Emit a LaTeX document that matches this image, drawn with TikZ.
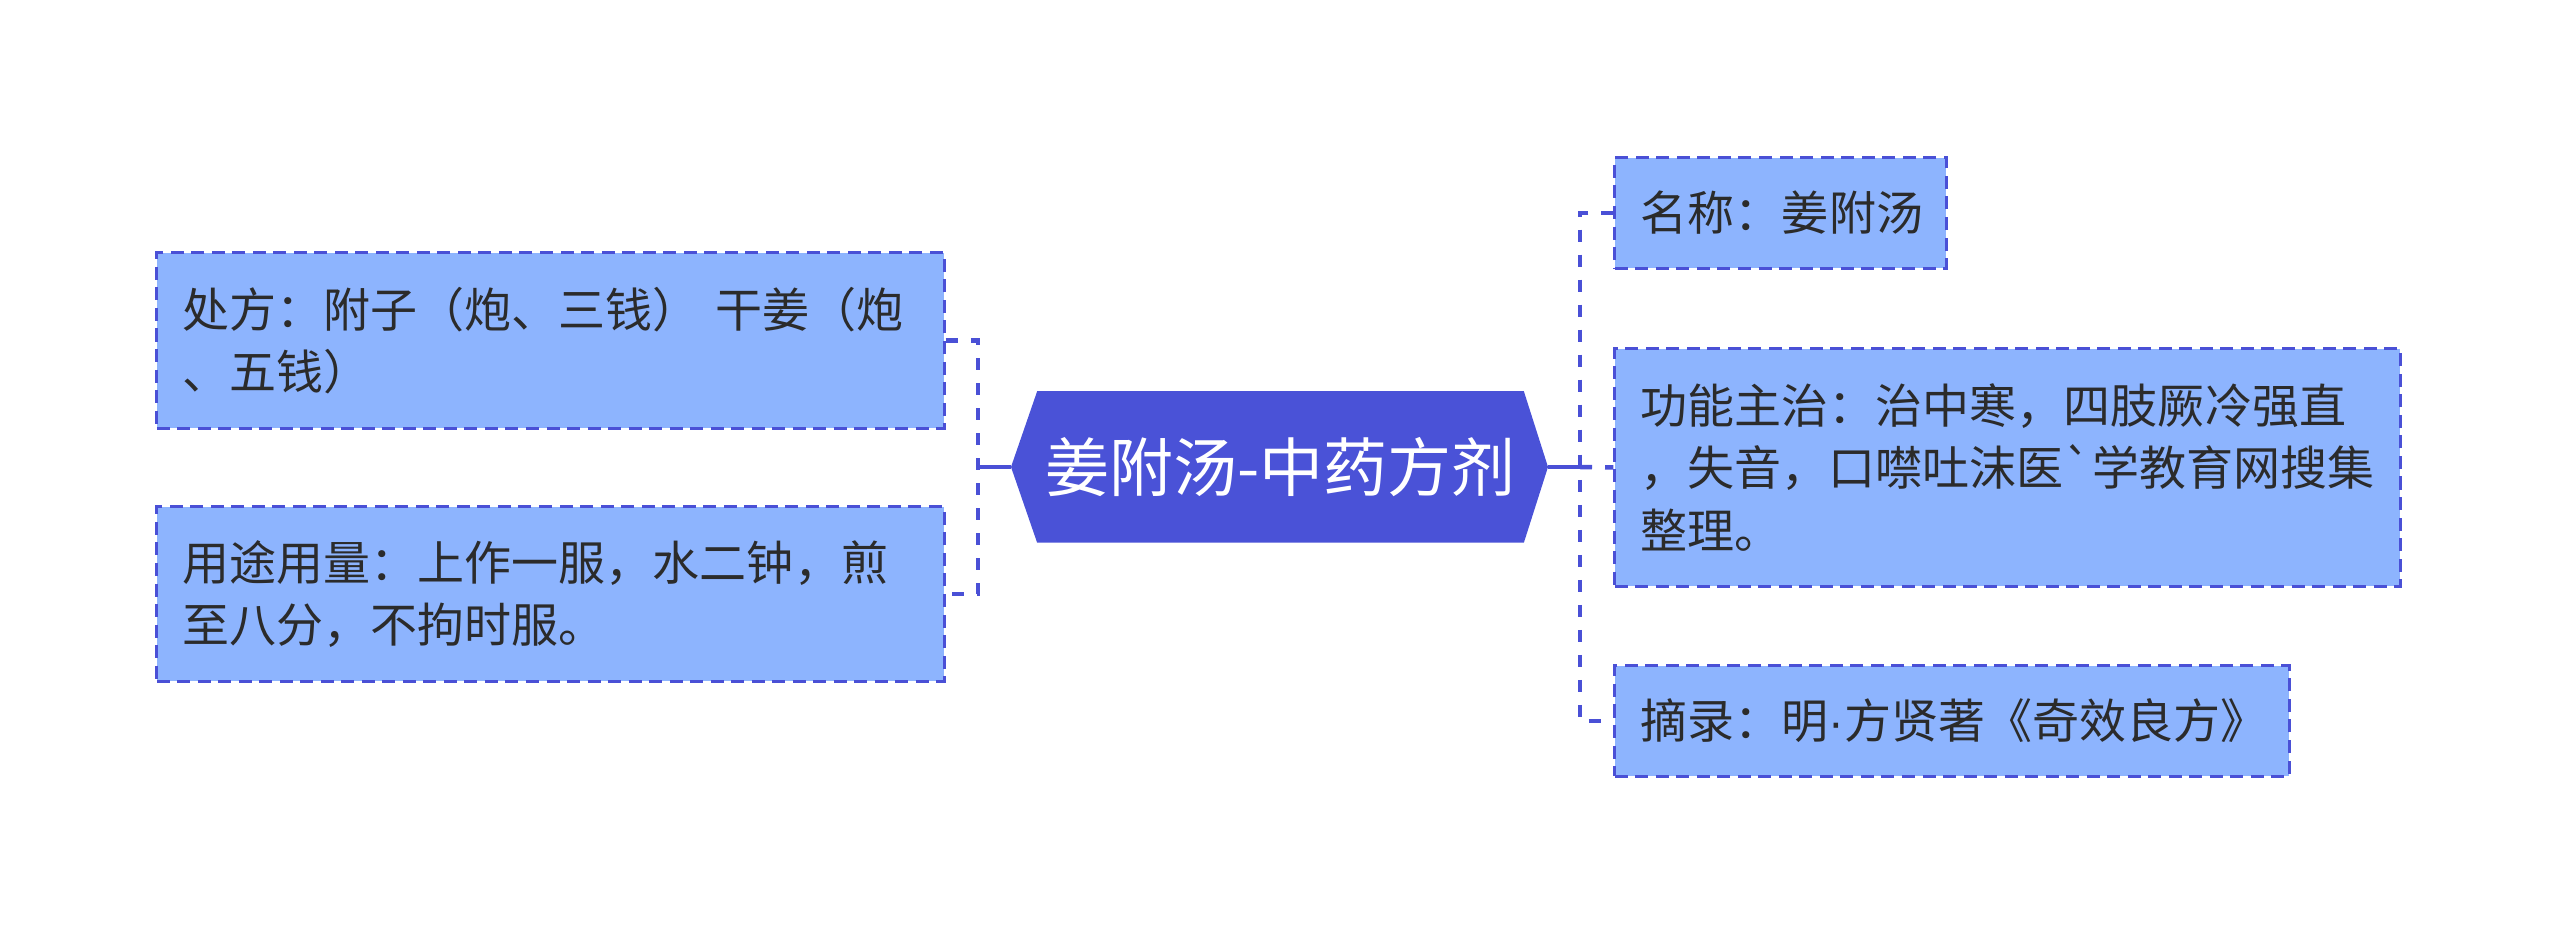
\documentclass[tikz,border=0pt]{standalone}
\usepackage{fontspec}
\setmainfont{Noto Sans CJK SC}
\newfontfamily\dotfont{Liberation Sans}
\definecolor{rootfill}{HTML}{4A52D7}
\definecolor{linecol}{HTML}{4A50D6}
\definecolor{boxfill}{HTML}{8DB4FE}
\definecolor{textcol}{HTML}{2B2B2B}
\tikzset{
  leaf/.style={rectangle, fill=boxfill, draw=linecol, line width=0.03cm,
    dash pattern=on 0.13cm off 0.075cm, inner xsep=0.26cm, inner ysep=0pt,
    text width=#1, align=left, text=textcol,
    font=\fontsize{13.37pt}{17.7pt}\selectfont},
  conn/.style={draw=linecol, line width=0.045cm, dash pattern=on 0.12cm off 0.13cm},
  connsolid/.style={draw=linecol, line width=0.045cm},
}
\begin{document}
\begin{tikzpicture}[x=0.01cm,y=-0.01cm]
\useasboundingbox (0,0) rectangle (2560,934);
% root
\node[inner sep=0pt, minimum width=4.85cm, minimum height=1.50cm] (root) at (1280.5,467) {};
\coordinate (rootL) at (1011,467);
\coordinate (rootR) at (1548,467);
\fill[rootfill] (rootL) -- (root.north west) -- (root.north east) -- (rootR) -- (root.south east) -- (root.south west) -- cycle;
\node[text=white, font=\fontsize{18.2pt}{20pt}\selectfont, inner sep=0pt] (roottext) at (1280.5,467) {姜附汤-中药方剂};
% left boxes
\node[leaf=7.35cm, minimum height=1.75cm] (b1) at (550.5,340.5) {处方：附子（炮、三钱）~干姜（炮\\、五钱）};
\node[leaf=7.35cm, minimum height=1.74cm] (b2) at (550.5,594) {用途用量：上作一服，水二钟，煎\\至八分，不拘时服。};
% right boxes
\node[leaf=2.79cm, minimum height=1.10cm] (n1) at (1780.5,213) {名称：姜附汤};
\node[leaf=7.33cm, minimum height=2.37cm] (n2) at (2007.5,467.5) {功能主治：治中寒，四肢厥冷强直\\，失音，口噤吐沫医\textasciigrave 学教育网搜集\\整理。};
\node[leaf=6.22cm, minimum height=1.10cm] (n3) at (1952,721) {摘录：明{\dotfont ·}方贤著《奇效良方》};
% connectors
\coordinate (lj) at (978,467);
\coordinate (rj) at (1580,467);
\draw[connsolid] (rootL) -- (lj);
\draw[conn] (b1.east) -| (lj) |- (b2.east);
\draw[connsolid] (rootR) -- (rj);
\draw[conn] (n1.west) -| (rj) |- (n3.west);
\draw[conn] (rj) -- (n2.west);
\end{tikzpicture}
\end{document}
